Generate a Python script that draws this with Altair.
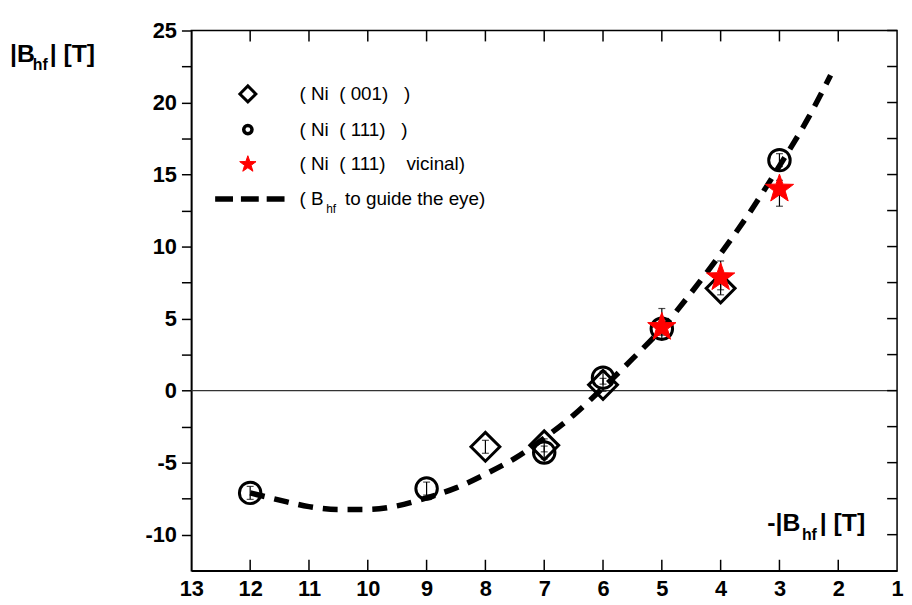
import altair as alt
import pandas as pd

# ---------------- data ----------------
circ_x = [12, 9, 7, 6, 5, 3]
circ_y = [-7.1, -6.8, -4.3, 0.9, 4.3, 16.0]
circ_lo = [-7.55, -7.25, -4.75, 0.45, 3.85, 15.55]
circ_hi = [-6.65, -6.35, -3.85, 1.35, 4.75, 16.45]

diam_x = [8, 7, 6, 4]
diam_y = [-3.9, -3.8, 0.4, 7.1]
diam_lo = [-4.35, -4.25, -0.05, 6.65]
diam_hi = [-3.45, -3.35, 0.85, 7.55]

star_x = [5, 4, 3]
star_y = [4.4, 7.85, 14.0]
star_lo = [3.6, 7.0, 12.8]
star_hi = [5.7, 9.0, 14.6]

curve_x = [12, 11.5, 11, 10.5, 10, 9.5, 9, 8.5, 8, 7.5, 7, 6.5, 6, 5.5, 5, 4.5, 4, 3.5, 3, 2.5, 2.13]
curve_y = [-7.1, -7.6, -8.05, -8.25, -8.25, -8.0, -7.45, -6.75, -5.8, -4.7, -3.3, -1.7, 0.2, 2.2, 4.3, 6.8, 9.5, 12.4, 15.6, 19.0, 21.9]

x_ticks = [1, 2, 3, 4, 5, 6, 7, 8, 9, 10, 11, 12, 13]
y_ticks = [-10, -7.5, -5, -2.5, 0, 2.5, 5, 7.5, 10, 12.5, 15, 17.5, 20, 22.5, 25]

legend_labels = [
    "(\u00a0Ni\u00a0\u00a0(\u00a0001)\u00a0\u00a0\u00a0)",
    "(\u00a0Ni\u00a0\u00a0(\u00a0111)\u00a0\u00a0\u00a0)",
    "(\u00a0Ni\u00a0\u00a0(\u00a0111)\u00a0\u00a0\u00a0\u00a0vicinal)",
]

W, H = 712, 545
FONT = "Liberation Sans"
STAR = ("M0,-1L0.235,-0.324L0.951,-0.309L0.380,0.124L0.588,0.809L0,0.4"
        "L-0.588,0.809L-0.380,0.124L-0.951,-0.309L-0.235,-0.324Z")

xs = alt.Scale(domain=[1, 13], reverse=True, nice=False, zero=False)
ys = alt.Scale(domain=[-12.5, 25], nice=False, zero=False)

x_axis = alt.Axis(orient="bottom", values=x_ticks, ticks=False, labelFontSize=22, labelFontWeight="bold",
                  labelFont=FONT, labelColor="black", labelPadding=8, domainColor="black",
                  domainWidth=1.5, grid=False, labelExpr="'' + datum.value", title=None,
                  labelFlush=False)
y_axis = alt.Axis(orient="left", values=y_ticks, tickSize=10, tickColor="black", tickWidth=1.5,
                  labelFontSize=22, labelFontWeight="bold", labelFont=FONT, labelColor="black",
                  labelPadding=5, domainColor="black", domainWidth=1.5, grid=False,
                  labelExpr="datum.value % 5 == 0 ? '' + datum.value : ''", title=None,
                  labelFlush=False)


def X(f):
    return alt.X(f, type="quantitative", scale=xs, axis=x_axis)


def Y(f):
    return alt.Y(f, type="quantitative", scale=ys, axis=y_axis)


circ_df = pd.DataFrame({"x": circ_x, "y": circ_y, "lo": circ_lo, "hi": circ_hi})
diam_df = pd.DataFrame({"x": diam_x, "y": diam_y, "lo": diam_lo, "hi": diam_hi})
star_df = pd.DataFrame({"x": star_x, "y": star_y, "lo": star_lo, "hi": star_hi})
curve_df = pd.DataFrame({"x": curve_x, "y": curve_y})
one = pd.DataFrame({"a": [0]})

layers = []

# zero line
layers.append(alt.Chart(pd.DataFrame({"y": [0]})).mark_rule(color="#333", strokeWidth=1.2)
              .encode(y=Y("y")))

# error bars
for df in (diam_df, circ_df, star_df):
    layers.append(alt.Chart(df).mark_rule(color="black", strokeWidth=1.2)
                  .encode(x=X("x"), y=Y("lo"), y2="hi"))
    layers.append(alt.Chart(df).mark_tick(color="black", orient="horizontal", size=7, thickness=1.2)
                  .encode(x=X("x"), y=Y("lo")))
    layers.append(alt.Chart(df).mark_tick(color="black", orient="horizontal", size=7, thickness=1.2)
                  .encode(x=X("x"), y=Y("hi")))

# markers
layers.append(alt.Chart(diam_df).mark_point(shape="diamond", filled=False, size=850, strokeWidth=3,
                                             color="black", opacity=1)
              .encode(x=X("x"), y=Y("y")))
layers.append(alt.Chart(circ_df).mark_point(shape="circle", filled=False, size=470, strokeWidth=3,
                                             color="black", opacity=1)
              .encode(x=X("x"), y=Y("y")))

# dashed guide curve
layers.append(alt.Chart(curve_df).mark_line(interpolate="monotone", strokeDash=[15, 10],
                                             strokeWidth=5.5, color="black")
              .encode(x=X("x"), y=Y("y")))

# stars
layers.append(alt.Chart(star_df).mark_point(shape=STAR, filled=True, size=900, fill="red",
                                             stroke="red", strokeWidth=1, opacity=1)
              .encode(x=X("x"), y=Y("y")))

# inward ticks (top, bottom, right)
xt_df = pd.DataFrame({"t": x_ticks[1:-1]})
yt_df = pd.DataFrame({"t": y_ticks})
layers.append(alt.Chart(xt_df).mark_rule(color="black", strokeWidth=1.5)
              .encode(x=X("t"), y=alt.value(H), y2=alt.value(H - 11)))
layers.append(alt.Chart(xt_df).mark_rule(color="black", strokeWidth=1.5)
              .encode(x=X("t"), y=alt.value(0), y2=alt.value(11)))
layers.append(alt.Chart(yt_df).mark_rule(color="black", strokeWidth=1.5)
              .encode(y=Y("t"), x=alt.value(W), x2=alt.value(W - 10)))

# ---------------- legend ----------------
leg_rows_y = [64, 100, 135, 170]
layers.append(alt.Chart(one).mark_point(shape="diamond", filled=False, size=260,
                                        strokeWidth=3, color="black", opacity=1)
              .encode(x=alt.value(57), y=alt.value(leg_rows_y[0])))
layers.append(alt.Chart(one).mark_point(shape="circle", filled=False, size=70,
                                        strokeWidth=3.5, color="black", opacity=1)
              .encode(x=alt.value(57), y=alt.value(leg_rows_y[1])))
layers.append(alt.Chart(one).mark_point(shape=STAR, filled=True, size=300, fill="red",
                                        stroke="red", strokeWidth=1, opacity=1)
              .encode(x=alt.value(57), y=alt.value(leg_rows_y[2])))
layers.append(alt.Chart(one).mark_rule(color="black", strokeWidth=5.5, strokeDash=[18, 8])
              .encode(x=alt.value(24), x2=alt.value(94), y=alt.value(leg_rows_y[3])))

for lbl, yy in zip(legend_labels, leg_rows_y[:3]):
    layers.append(alt.Chart(one).mark_text(
        align="left", baseline="middle", font=FONT, fontSize=19, color="black")
        .encode(x=alt.value(109), y=alt.value(yy), text=alt.value(lbl)))

layers.append(alt.Chart(one).mark_text(
    align="left", baseline="middle", font=FONT, fontSize=19, color="black")
    .encode(x=alt.value(109), y=alt.value(leg_rows_y[3]), text=alt.value("(\u00a0B")))
layers.append(alt.Chart(one).mark_text(
    align="left", baseline="middle", font=FONT, fontSize=12, color="black")
    .encode(x=alt.value(136), y=alt.value(leg_rows_y[3] + 10), text=alt.value("hf")))
layers.append(alt.Chart(one).mark_text(
    align="left", baseline="middle", font=FONT, fontSize=19, color="black")
    .encode(x=alt.value(155), y=alt.value(leg_rows_y[3]), text=alt.value("to guide the eye)")))


# ---------------- axis titles ----------------
def txt(s, x, y, size, align="left"):
    return alt.Chart(one).mark_text(
        align=align, baseline="alphabetic", font=FONT, fontSize=size, fontWeight="bold",
        color="black").encode(x=alt.value(x), y=alt.value(y), text=alt.value(s))


layers.append(txt("|B", -183, 32, 25))
layers.append(txt("hf", -160, 40, 16))
layers.append(txt("|\u00a0[T]", -143, 32, 25))
layers.append(txt("-|B", 581, 505, 25))
layers.append(txt("hf", 616, 514, 16))
layers.append(txt("|\u00a0[T]", 634, 505, 25))

chart = alt.layer(*layers).properties(
    width=W, height=H,
    padding={"left": 185, "top": 20, "right": 7, "bottom": 40},
    autosize=alt.AutoSizeParams(type="none"),
    background="white",
).configure(font=FONT).configure_view(stroke="black", strokeWidth=1.5)

chart.save("out.html", embed_options={"renderer": "svg", "actions": False})
